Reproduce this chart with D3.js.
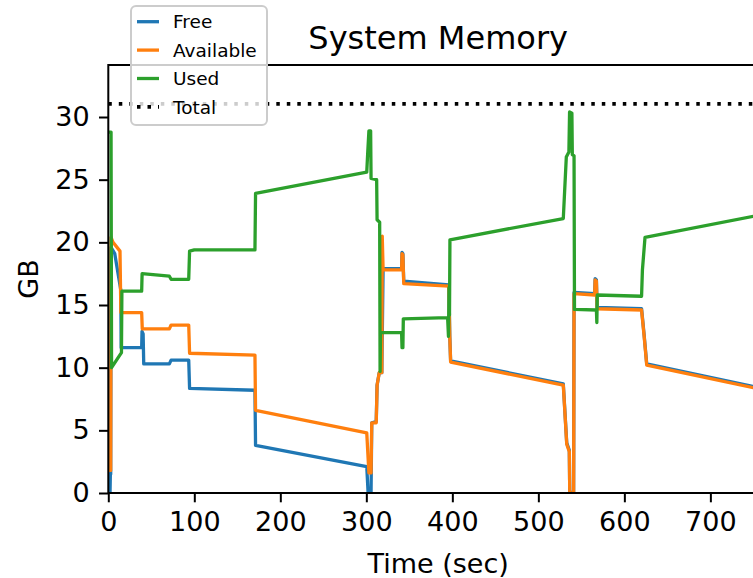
<!DOCTYPE html>
<html><head><meta charset="utf-8">
<script src="https://cdn.jsdelivr.net/npm/d3@7"></script>
<style>html,body{margin:0;padding:0;background:#fff;} svg{display:block;font-family:"DejaVu Sans",sans-serif;}</style>
</head><body><div id="chart"></div>
<script>
// ---- data ----
const freeT  = [2, 2.4, 2.8, 3.2, 7.5, 14.5, 15, 38.8, 39.2, 40.5, 41.2, 71, 73, 93.5, 94.5, 170.5, 171.2, 300.5, 302, 305.5, 306.3, 311.5, 312.5, 315, 318, 319.5, 341, 341.5, 342.5, 343.5, 396, 397, 398, 529, 533, 536, 536.5, 541, 541.5, 565.5, 566, 567.5, 568.3, 620, 623, 626, 767];
const freeGB = [0.0, 1.5, 1.5, 19.6, 19.1, 16.2, 11.6, 11.6, 12.9, 12.7, 10.3, 10.3, 10.6, 10.6, 8.35, 8.2, 3.8, 2.1, 0.1, 0.1, 5.6, 5.7, 8.6, 9.6, 9.6, 17.9, 17.9, 19.2, 19.1, 16.9, 16.6, 12.5, 10.55, 8.7, 4.0, 3.4, 0.05, 0.05, 16.0, 15.9, 17.1, 17.0, 14.8, 14.7, 12.6, 10.3, 8.25];
const availT  = [2, 2.8, 3.2, 5.5, 13.6, 14.6, 38.8, 39.5, 71, 73, 93.5, 94.5, 170.5, 171.2, 300.5, 301.5, 303, 305.5, 306.3, 311.5, 312.5, 315, 318, 318.5, 319.5, 341, 341.5, 342.5, 343.5, 396, 397, 398, 529, 533, 536, 536.5, 541, 541.5, 565.5, 566, 567.5, 568.3, 620, 623, 626, 767];
const availGB = [1.8, 1.8, 20.4, 20.0, 19.3, 14.4, 14.4, 13.1, 13.1, 13.4, 13.4, 11.15, 11.0, 6.6, 4.8, 3.5, 1.6, 1.6, 5.6, 5.6, 8.6, 9.6, 9.6, 20.5, 17.8, 17.8, 19.1, 19.0, 16.7, 16.5, 12.5, 10.45, 8.6, 3.9, 3.3, 0.0, 0.0, 15.9, 15.8, 17.0, 16.9, 14.7, 14.6, 12.5, 10.2, 8.15];
const usedT  = [2, 3.2, 3.8, 15.3, 15.8, 38.8, 39.3, 71, 73, 93.5, 94.5, 100, 170.5, 171.2, 300.5, 301.5, 303, 305, 305.5, 312, 312.5, 315.5, 316, 316.5, 341, 341.5, 342.5, 343, 394.5, 395.5, 396.2, 396.7, 397.2, 529, 532.5, 535.5, 536.3, 539, 539.5, 541.5, 542, 567.5, 568, 568.5, 620, 621, 624, 767];
const usedGB = [28.8, 28.8, 10.0, 11.2, 16.1, 16.1, 17.5, 17.3, 17.05, 17.05, 19.3, 19.4, 19.4, 23.9, 25.6, 27.0, 28.9, 28.9, 25.1, 25.0, 21.8, 21.6, 9.7, 12.8, 12.8, 11.6, 11.6, 13.9, 14.0, 12.5, 16.4, 14.2, 20.2, 21.9, 26.8, 27.2, 30.4, 30.3, 27.0, 26.9, 14.65, 14.6, 13.6, 15.8, 15.7, 17.8, 20.4, 22.3];
const totalT  = [0, 767];
const totalGB = [31.05, 31.05];
const xTicks = [0, 100, 200, 300, 400, 500, 600, 700];
const yTicks = [0, 5, 10, 15, 20, 25, 30];
const seriesNames = ["Free", "Available", "Used", "Total"];
const seriesColors = ["#1f77b4", "#ff7f0e", "#2ca02c", "#000000"];

// ---- layout ----
const W = 753, H = 578;
const m = {left: 108.3, right: 768, top: 65, bottom: 493};
const svg = d3.select("#chart").append("svg").attr("width", W).attr("height", H);
svg.append("rect").attr("width", W).attr("height", H).attr("fill", "#fff");

const x = d3.scaleLinear().domain([0, 767]).range([m.left, m.right]);
const y = d3.scaleLinear().domain([0, 34.15]).range([m.bottom, m.top]);

svg.append("clipPath").attr("id", "clip").append("rect")
  .attr("x", m.left).attr("y", m.top).attr("width", m.right - m.left).attr("height", m.bottom - m.top);

const line = d3.line().x(d => x(d[0])).y(d => y(d[1]));
const zip = (a, b) => a.map((t, i) => [t, b[i]]);
const series = [
  {pts: zip(freeT, freeGB), dash: null},
  {pts: zip(availT, availGB), dash: null},
  {pts: zip(usedT, usedGB), dash: null},
  {pts: zip(totalT, totalGB), dash: "3.5,7"}
];
const g = svg.append("g").attr("clip-path", "url(#clip)");
series.forEach((s, i) => {
  g.append("path").attr("d", line(s.pts)).attr("fill", "none")
    .attr("stroke", seriesColors[i]).attr("stroke-width", s.dash ? 3.6 : 3.3)
    .attr("stroke-linejoin", "round").attr("stroke-linecap", s.dash ? "butt" : "square")
    .attr("stroke-dasharray", s.dash);
});

// axes
const fs = 27;
const xAxis = svg.append("g").attr("transform", `translate(0,${m.bottom})`)
  .call(d3.axisBottom(x).tickValues(xTicks).tickSize(9.3).tickPadding(9.5).tickFormat(d3.format("d")));
const yAxis = svg.append("g").attr("transform", `translate(${m.left},0)`)
  .call(d3.axisLeft(y).tickValues(yTicks).tickSize(9.3).tickPadding(9.3).tickFormat(d3.format("d")));
[xAxis, yAxis].forEach(a => {
  a.select(".domain").remove();
  a.selectAll(".tick line").attr("stroke", "#000").attr("stroke-width", 2);
  a.selectAll(".tick text").attr("fill", "#000").style("font-size", fs + "px").style("font-family", "DejaVu Sans");
});
// spines
svg.append("rect").attr("x", m.left).attr("y", m.top).attr("width", m.right - m.left).attr("height", m.bottom - m.top)
  .attr("fill", "none").attr("stroke", "#000").attr("stroke-width", 2);

// labels
svg.append("text").attr("x", (m.left + m.right) / 2).attr("y", 49).attr("text-anchor", "middle")
  .style("font-size", "32px").text("System Memory");
svg.append("text").attr("x", (m.left + m.right) / 2).attr("y", 573).attr("text-anchor", "middle")
  .style("font-size", fs + "px").text("Time (sec)");
svg.append("text").attr("transform", `translate(38,${(m.top + m.bottom) / 2}) rotate(-90)`).attr("text-anchor", "middle")
  .style("font-size", fs + "px").text("GB");

// legend
const lg = svg.append("g");
lg.append("rect").attr("x", 131).attr("y", 6).attr("width", 136).attr("height", 119).attr("rx", 5)
  .attr("fill", "#fff").attr("fill-opacity", 0.8).attr("stroke", "#cccccc").attr("stroke-width", 2);
seriesNames.forEach((n, i) => {
  const yy = 21.7 + i * 28.4;
  lg.append("line").attr("x1", 137).attr("x2", 159).attr("y1", yy).attr("y2", yy)
    .attr("stroke", seriesColors[i]).attr("stroke-width", i === 3 ? 3.6 : 3.3)
    .attr("stroke-dasharray", i === 3 ? "3.5,7" : null);
  lg.append("text").attr("x", 173).attr("y", 28.3 + i * 28.4).style("font-size", "18.5px").text(n);
});
</script></body></html>
